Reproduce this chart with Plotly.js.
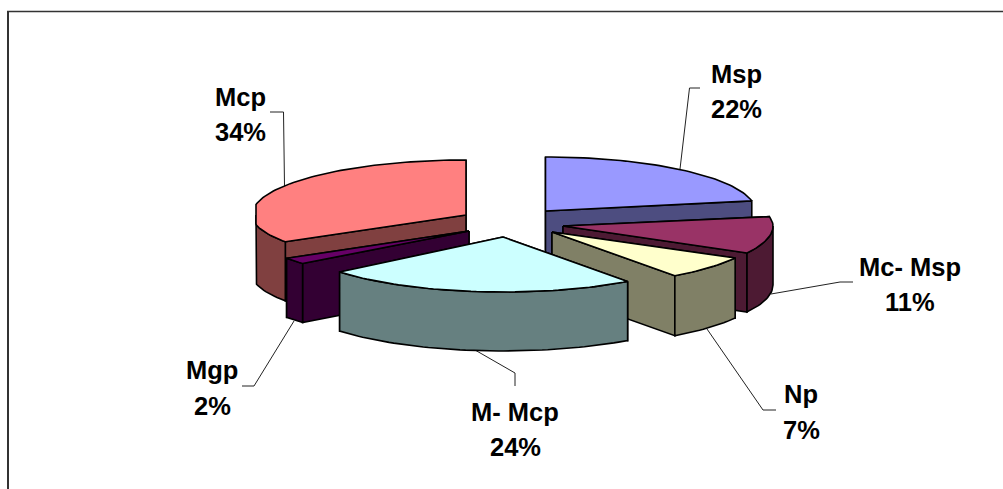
<!DOCTYPE html>
<html>
<head>
<meta charset="utf-8">
<script src="https://cdn.plot.ly/plotly-3.0.1.min.js"></script>
<style>html,body{margin:0;padding:0;background:#fff}#chart{width:1003px;height:489px}</style>
</head>
<body>
<div id="chart"></div>
<script>
// Composition shares, clockwise from twelve o'clock
const categories = ['Msp', 'Mc- Msp', 'Np', 'M- Mcp', 'Mgp', 'Mcp'];
const shares = [22, 11, 7, 24, 2, 34];

// Face colours for each slice
const topColors = ['#9999FF', '#993366', '#FFFFCC', '#CCFFFF', '#660066', '#FF8080'];
const wallColors = ['#4D4D80', '#4D1A33', '#808066', '#668080', '#330033', '#804040'];

// Exploded-slice placement on the page: apex, radii, thickness, optional clamp
const placement = [
  {cx: 545.5, cy: 211, rx: 210, ryBack: 54, ryFront: 54, depth: 59},
  {cx: 563, cy: 226, rx: 210, ryBack: 50, ryFront: 56, depth: 59, xMax: 773},
  {cx: 552, cy: 232, rx: 209, ryBack: 54, ryFront: 54, depth: 60},
  {cx: 503, cy: 237, rx: 212, ryBack: 55, ryFront: 55, depth: 59},
  {cx: 469, cy: 231, rx: 216, ryBack: 54, ryFront: 51, depth: 59},
  {cx: 466, cy: 215, rx: 214, ryBack: 55, ryFront: 50, depth: 59, xMin: 256}
];

// Back-to-front paint order of the slices
const paintOrder = [0, 5, 1, 4, 2, 3];

// Label anchors: centre x and the baselines of the two text lines
const labelX = [736, 910, 801, 515, 212, 240];
const nameBaseline = [83, 276, 403, 421, 379, 106];
const pctBaseline = [118, 311, 439, 456, 415, 141];

// Leader lines running from the labels to their slices
const leaderPaths = [
  'M680,169 L689.5,88 L700,88',
  'M771,294 L840,282 L853,282',
  'M707,329 L763,410 L776,410',
  'M475,350 L515,373 L515,386',
  'M294,321 L254,386 L242,386',
  'M284.5,186 L283.5,112 L270,112'
];

const total = shares.reduce((a, b) => a + b, 0);
const edge = {color: '#000000', width: 1.6};

function rimPoint(p, deg) {
  const t = deg * Math.PI / 180;
  const c = Math.cos(t);
  let x = p.cx + p.rx * Math.sin(t);
  if (p.xMin !== undefined) x = Math.max(x, p.xMin);
  if (p.xMax !== undefined) x = Math.min(x, p.xMax);
  return [x, p.cy - (c >= 0 ? p.ryBack : p.ryFront) * c];
}

function arcPoints(p, a0, a1) {
  const n = Math.max(2, Math.ceil(Math.abs(a1 - a0) / 1.5));
  const pts = [];
  for (let i = 0; i <= n; i++) pts.push(rimPoint(p, a0 + (a1 - a0) * i / n));
  return pts;
}

function face(pts, color, name) {
  const closed = pts.concat([pts[0]]);
  return {
    type: 'scatter', mode: 'lines', fill: 'toself', fillcolor: color, name: name,
    x: closed.map(q => q[0]), y: closed.map(q => q[1]),
    line: edge, hoverinfo: 'name', showlegend: false
  };
}

function lowered(pts, d) {
  return pts.map(q => [q[0], q[1] + d]);
}

// Walls and top of one prism-shaped slice, rear faces first
function sliceFaces(i, a0, a1) {
  const p = placement[i], wall = wallColors[i], name = categories[i];
  const apex = [p.cx, p.cy];
  const s = rimPoint(p, a0), e = rimPoint(p, a1);
  const radial = (q) => face([apex, q, [q[0], q[1] + p.depth], [apex[0], apex[1] + p.depth]], wall, name);
  const faces = s[1] <= e[1] ? [radial(s), radial(e)] : [radial(e), radial(s)];
  const f0 = Math.max(a0, 90), f1 = Math.min(a1, 270);
  const rim = arcPoints(p, a0, a1);
  if (f1 > f0) {
    const front = arcPoints(p, f0, f1);
    faces.push(face(front.concat(lowered(front, p.depth).reverse()), wall, name));
  }
  faces.push(face([apex].concat(rim), topColors[i], name));
  return faces;
}

const starts = [];
shares.reduce((run, v, i) => { starts[i] = run; return run + v; }, 0);

const traces = [];
paintOrder.forEach(i => {
  const a0 = starts[i] / total * 360;
  const a1 = (starts[i] + shares[i]) / total * 360;
  traces.push(...sliceFaces(i, a0, a1));
});

const labelFont = {family: '"Liberation Sans", Arial, sans-serif', size: 25.5, color: '#000000'};
const annotations = [];
categories.forEach((c, i) => {
  [[c, nameBaseline[i]], [shares[i] + '%', pctBaseline[i]]].forEach(([t, base]) => {
    annotations.push({
      x: labelX[i], y: base - 9, xref: 'x', yref: 'y', text: '<b>' + t + '</b>',
      showarrow: false, xanchor: 'center', yanchor: 'middle', font: labelFont
    });
  });
});

const shapes = leaderPaths.map(d => ({
  type: 'path', path: d, xref: 'x', yref: 'y', line: {color: '#222222', width: 1}, layer: 'below'
}));
// Chart frame: left and top rules run off the page edges
shapes.push({type: 'line', xref: 'x', yref: 'y', x0: 8, x1: 8, y0: 11.5, y1: 489, line: {color: '#333333', width: 2}});
shapes.push({type: 'line', xref: 'x', yref: 'y', x0: 7, x1: 1003, y0: 11.5, y1: 11.5, line: {color: '#333333', width: 1.5}});

const hidden = {visible: false, fixedrange: true, autorange: false};
Plotly.newPlot('chart', traces, {
  width: 1003, height: 489,
  margin: {l: 0, r: 0, t: 0, b: 0},
  paper_bgcolor: '#ffffff', plot_bgcolor: '#ffffff',
  xaxis: Object.assign({range: [0, 1003]}, hidden),
  yaxis: Object.assign({range: [489, 0]}, hidden),
  showlegend: false, annotations: annotations, shapes: shapes
}, {displayModeBar: false, staticPlot: true});
</script>
</body>
</html>
